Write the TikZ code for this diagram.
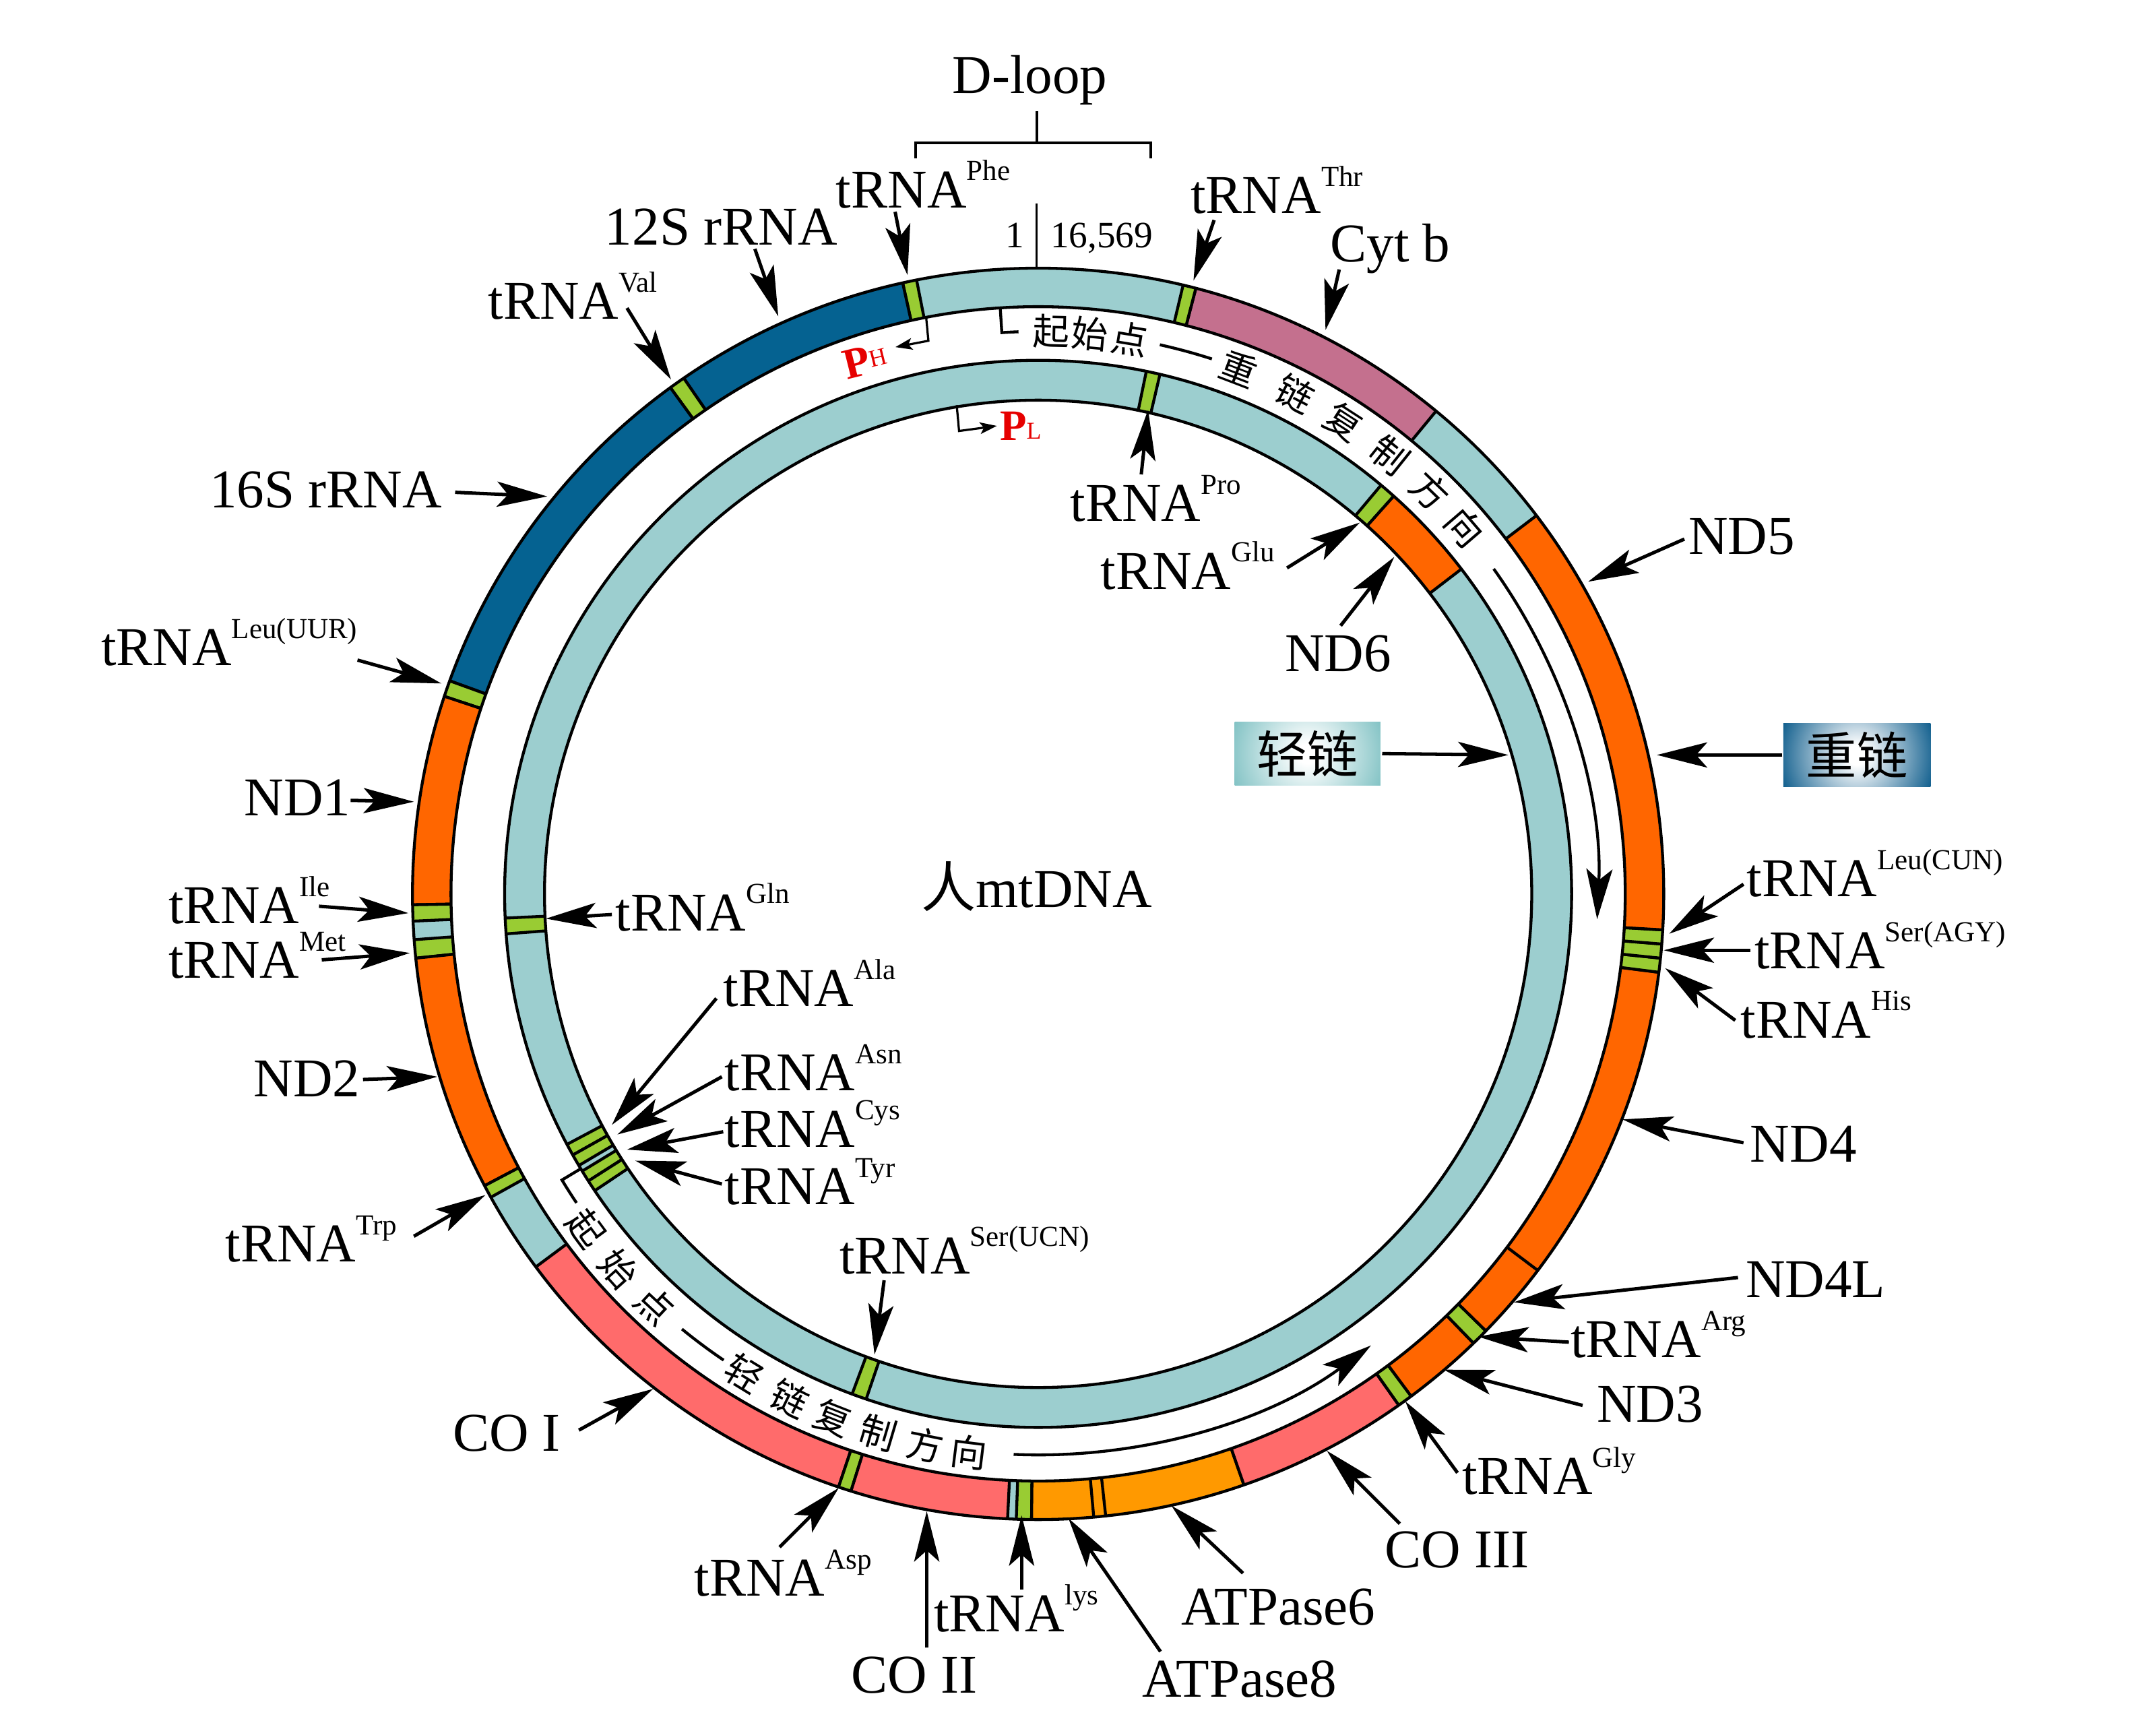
\documentclass[tikz,border=0pt]{standalone}
\usepackage{fontspec}
\setmainfont{Liberation Serif}
\newfontfamily\cjk{Noto Sans CJK SC}
\usetikzlibrary{arrows.meta}
\definecolor{teal0}{RGB}{156,206,207}
\definecolor{rrna}{RGB}{5,98,145}
\definecolor{ndc}{RGB}{255,102,0}
\definecolor{cytb}{RGB}{196,112,142}
\definecolor{coc}{RGB}{255,107,107}
\definecolor{atpc}{RGB}{255,153,0}
\definecolor{trg}{RGB}{153,204,51}
\definecolor{phred}{RGB}{230,0,0}
\definecolor{heavyb}{RGB}{10,90,138}
\definecolor{lightb}{RGB}{125,192,194}
\pgfdeclareradialshading{heavyglow}{\pgfpoint{0bp}{0bp}}{color(0bp)=(white); color(3bp)=(white); color(25bp)=(heavyb); color(50bp)=(heavyb)}
\pgfdeclareradialshading{lightglow}{\pgfpoint{0bp}{0bp}}{color(0bp)=(white); color(3bp)=(white); color(25bp)=(lightb); color(50bp)=(lightb)}
\newcommand\trna[1]{tRNA\raisebox{5.6pt}{\fontsize{6}{7}\selectfont #1}}
\newcommand\ringseg[5]{\fill[#1] (#2:#4) arc[start angle=#2,end angle=#3,radius=#4] -- (#3:#5) arc[start angle=#3,end angle=#2,radius=#5] -- cycle; \draw[ringline] (#2:#4) -- (#2:#5) (#3:#4) -- (#3:#5);}
\newcommand\oseg[3]{\ringseg{#1}{#2}{#3}{455}{427}}
\newcommand\iseg[3]{\ringseg{#1}{#2}{#3}{388}{359}}
\tikzset{
 ringline/.style={line width=0.6pt},
 lab/.style={inner sep=0pt, outer sep=0pt, font=\fontsize{11.3}{13}\selectfont},
 arr/.style={line width=0.7pt, -{Stealth[length=10.4pt,width=5.2pt,inset=2.3pt]}},
 bigarr/.style={line width=0.6pt, -{Stealth[length=10.4pt,width=5.4pt,inset=2.3pt]}},
 sarr/.style={line width=0.45pt, -{Stealth[length=3.5pt,width=2.4pt,inset=0.8pt]}},
 cj/.style={inner sep=0pt, font=\cjk\fontsize{7.6}{8}\selectfont},
 pmark/.style={inner sep=0pt, text=phred},
 boxlab/.style={minimum width=1.07cm, minimum height=0.465cm, inner sep=0pt, font=\cjk\fontsize{10.5}{11}\selectfont},
}
\begin{document}
\begin{tikzpicture}[x=0.01cm,y=-0.01cm]
\useasboundingbox (0,0) rectangle (1568,1254);
\fill[white] (0,0) rectangle (1568,1254);

\begin{scope}[shift={(755,650)},x=0.01cm,y=0.01cm]
 \fill[teal0, even odd rule] (0,0) circle[radius=455] (0,0) circle[radius=427];
 \fill[teal0, even odd rule] (0,0) circle[radius=388] (0,0) circle[radius=359];
 % heavy strand (outer)
 \oseg{cytb}{50.5}{75.4}
 \oseg{trg}{75.4}{76.6}
 \oseg{trg}{101.2}{102.5}
 \oseg{rrna}{102.5}{124.5}
 \oseg{trg}{124.5}{126.0}
 \oseg{rrna}{126.0}{160.1}
 \oseg{trg}{160.1}{161.6}
 \oseg{ndc}{161.6}{181.0}
 \oseg{trg}{181.0}{182.5}
 \oseg{trg}{184.2}{185.9}
 \oseg{ndc}{185.9}{207.8}
 \oseg{trg}{207.8}{209.0}
 \oseg{coc}{216.6}{251.4}
 \oseg{trg}{251.4}{252.6}
 \oseg{coc}{252.6}{267.2}
 \oseg{trg}{268.0}{269.4}
 \oseg{atpc}{269.4}{289.2}
 \oseg{coc}{289.2}{305.2}
 \oseg{trg}{305.2}{306.6}
 \oseg{ndc}{306.6}{314.1}
 \oseg{trg}{314.1}{315.7}
 \oseg{ndc}{315.7}{352.8}
 \oseg{trg}{352.8}{354.1}
 \oseg{trg}{354.1}{355.4}
 \oseg{trg}{355.4}{356.7}
 \oseg{ndc}{356.7}{397.2}
 \draw[ringline] (275.1:455) -- (275.1:427) (276.2:455) -- (276.2:427) (323:455) -- (323:427);
 % light strand (inner)
 \iseg{trg}{76.8}{78.3}
 \iseg{trg}{48.2}{50.0}
 \iseg{ndc}{37.5}{48.2}
 \iseg{trg}{182.6}{184.3}
 \iseg{trg}{208.0}{209.3}
 \iseg{trg}{209.3}{210.6}
 \iseg{trg}{211.3}{212.55}
 \iseg{trg}{212.55}{213.8}
 \iseg{trg}{249.6}{251.2}
 \draw[ringline] (0,0) circle[radius=455] (0,0) circle[radius=427] (0,0) circle[radius=388] (0,0) circle[radius=359];
 % origin brackets and dashes
 \draw[ringline] (93.7:427) -- (93.7:409) arc[start angle=93.7,end angle=92.0,radius=409];
 \draw[ringline] (211:388) -- (211:404) arc[start angle=211,end angle=213.8,radius=404];
 \draw[ringline] (77.5:409) arc[start angle=77.5,end angle=72.0,radius=409];
 \draw[ringline] (230.7:409) arc[start angle=230.7,end angle=236.0,radius=409];
 % replication arrows
 \coordinate (hs) at (35.5:407);
 \coordinate (ls) at (267.5:408);
 \draw[bigarr] (hs) arc[start angle=35.5,end angle=-2.6,radius=407];
 \draw[bigarr] (ls) arc[start angle=267.5,end angle=306.4,radius=408];
 % texts along arcs
 \foreach \a/\c [count=\i] in {88.7/起,84.7/始,80.6/点,69.1/重,62.8/链,57.1/复,51.3/制,45.8/方,40.7/向}
   \node[cj, rotate=\a-90] (h\i) at (\a:409) {\c};
 \foreach \a/\c [count=\i] in {216.5/起,221.8/始,227.0/点,238.5/轻,243.8/链,248.6/复,253.5/制,258.4/方,262.9/向}
   \node[cj, rotate=\a+90] (l\i) at (\a:409) {\c};
\end{scope}

% D-loop
\draw[line width=0.6pt] (666,115) -- (666,104) -- (837,104) -- (837,115);
\draw[line width=0.6pt] (754,104) -- (754,81);
\node[lab, anchor=base] (dloop) at (749,68) {D-loop};
\draw[line width=0.45pt] (754,148) -- (754,195);
\node[lab, anchor=base east, font=\fontsize{7.7}{9}\selectfont] (one) at (745,180) {1};
\node[lab, anchor=base west, font=\fontsize{7.7}{9}\selectfont] (last) at (764,180) {16,569};

% promoters
\coordinate (phA) at (673.5,230); \coordinate (phB) at (675.2,247.8); \coordinate (phC) at (651.2,252.4);
\draw[sarr] (phA) -- (phB) -- (phC);
\node[pmark, rotate=14] (ph) at (629,262) {\fontsize{9}{10}\selectfont\bfseries P\raisebox{1.2pt}{\fontsize{5}{6}\selectfont\mdseries H}};
\coordinate (plA) at (695.8,294.6); \coordinate (plB) at (697.5,313.4); \coordinate (plC) at (725,309.7);
\draw[sarr] (plA) -- (plB) -- (plC);
\node[pmark, anchor=west] (pl) at (726.5,310) {\fontsize{9}{10}\selectfont\bfseries P\raisebox{0.3pt}{\fontsize{5}{6}\selectfont\mdseries L}};

% center
\node[lab, anchor=base] (ctr) at (754,660) {{\cjk 人}mtDNA};

% strand boxes
\begin{scope}
 \clip (898,525) rectangle (1004,571);
 \shade[shading=lightglow] (951,548) circle[radius=0.6cm];
\end{scope}
\begin{scope}
 \clip (1297,526) rectangle (1404,572);
 \shade[shading=heavyglow] (1350.5,549) circle[radius=0.6cm];
\end{scope}
\node[boxlab] (qing) at (951,548) {轻链};
\node[boxlab] (zhong) at (1350.5,549) {重链};
\coordinate (tQing) at (1097,549);
\coordinate (tZhong) at (1205,549);
\draw[arr] (qing.east) -- (tQing);
\draw[arr] (zhong.west) -- (tZhong);

% labels
\node[lab, anchor=base west] (lPhe) at (608,151) {\trna{Phe}};
\node[lab, anchor=base west] (lThr) at (866,155) {\trna{Thr}};
\node[lab, anchor=base west] (lCytb) at (967.5,190.5) {Cyt b};
\node[lab, anchor=base west] (l12S) at (440,178) {12S rRNA};
\node[lab, anchor=base west] (lVal) at (355,232) {\trna{Val}};
\node[lab, anchor=base east] (l16S) at (321.4,369.4) {16S rRNA};
\node[lab, anchor=base west] (lLeuUUR) at (73.5,484) {\trna{Leu(UUR)}};
\node[lab, anchor=base west] (lND1) at (177.6,593) {ND1};
\node[lab, anchor=base west] (lIle) at (122.7,671.4) {\trna{Ile}};
\node[lab, anchor=base west] (lMet) at (122.7,711.2) {\trna{Met}};
\node[lab, anchor=base west] (lND2) at (184.6,797.6) {ND2};
\node[lab, anchor=base west] (lTrp) at (164,917.4) {\trna{Trp}};
\node[lab, anchor=base west] (lCOI) at (329.3,1055) {CO I};
\node[lab, anchor=base west] (lAsp) at (505,1160.8) {\trna{Asp}};
\node[lab, anchor=base west] (lCOII) at (619.3,1231) {CO II};
\node[lab, anchor=base west] (lLys) at (679.3,1186.6) {\trna{lys}};
\node[lab, anchor=base west] (lATP8) at (831,1234) {ATPase8};
\node[lab, anchor=base west] (lATP6) at (859,1181.5) {ATPase6};
\node[lab, anchor=base west] (lCOIII) at (1007,1140.2) {CO III};
\node[lab, anchor=base west] (lGly) at (1063.3,1086.7) {\trna{Gly}};
\node[lab, anchor=base west] (lND3) at (1161.3,1034.2) {ND3};
\node[lab, anchor=base west] (lArg) at (1142.4,987.1) {\trna{Arg}};
\node[lab, anchor=base west] (lND4L) at (1269.6,943.4) {ND4L};
\node[lab, anchor=base west] (lND4) at (1273,845) {ND4};
\node[lab, anchor=base west] (lHis) at (1266,754.6) {\trna{His}};
\node[lab, anchor=base west] (lSerAGY) at (1276,704.3) {\trna{Ser(AGY)}};
\node[lab, anchor=base west] (lLeuCUN) at (1270.4,651.8) {\trna{Leu(CUN)}};
\node[lab, anchor=base west] (lND5) at (1228,403) {ND5};
\node[lab, anchor=base west] (lND6) at (934.5,488.4) {ND6};
\node[lab, anchor=base west] (lPro) at (778.5,379.1) {\trna{Pro}};
\node[lab, anchor=base west] (lGlu) at (800.4,428.3) {\trna{Glu}};
\node[lab, anchor=base west] (lGln) at (447.6,676.7) {\trna{Gln}};
\node[lab, anchor=base west] (lAla) at (526,731.7) {\trna{Ala}};
\node[lab, anchor=base west] (lAsn) at (527,793) {\trna{Asn}};
\node[lab, anchor=base west] (lCys) at (527,834) {\trna{Cys}};
\node[lab, anchor=base west] (lTyr) at (527,876) {\trna{Tyr}};
\node[lab, anchor=base west] (lSerUCN) at (610.6,926.1) {\trna{Ser(UCN)}};

% callout arrows: tail / tip coordinates
\foreach \n/\ax/\ay/\tx/\ty in {
 Phe/651/154/660/200, S12/549/181/566/230, Val/456/224/488/276, S16/331/358/398/361,
 LeuUUR/260/480/321/497, ND1/255/582/301/583, Ile/232/659/297/664, Met/234/698/298/693,
 ND2/264/785/318/783, Trp/301/899/353/869, COI/421/1040/475/1010, Asp/567/1125/610/1082,
 COII/674/1198/674/1099, Lys/743/1156/743/1102, ATP8/844/1201/777/1104, ATP6/904/1144/852/1095,
 COIII/1018/1108/965/1055, Gly/1060/1071/1022/1019, ND3/1151/1022/1050/996, Arg/1141/976/1075/972,
 ND4L/1264/929/1101/947, ND4/1268/831/1180/814, His/1262/742/1211/704, SerAGY/1273/691/1210/691,
 LeuCUN/1268/643/1214/679, Gln/445/665/397/668, Ala/521/726/445/818, Asn/525/783/449/825,
 Cys/526/823/456/836, Tyr/525/861/462/844, SerUCN/643/931/636/985, Pro/830/345/835/298,
 Glu/936/413/989/380, ND6/975/455/1014/405, Thr/883/160/868/204, Cytb/974/196/964/240,
 ND5/1225/392/1155/423}
{
 \coordinate (a\n) at (\ax,\ay);
 \coordinate (t\n) at (\tx,\ty);
 \draw[arr] (a\n) -- (t\n);
}
\end{tikzpicture}
\end{document}
